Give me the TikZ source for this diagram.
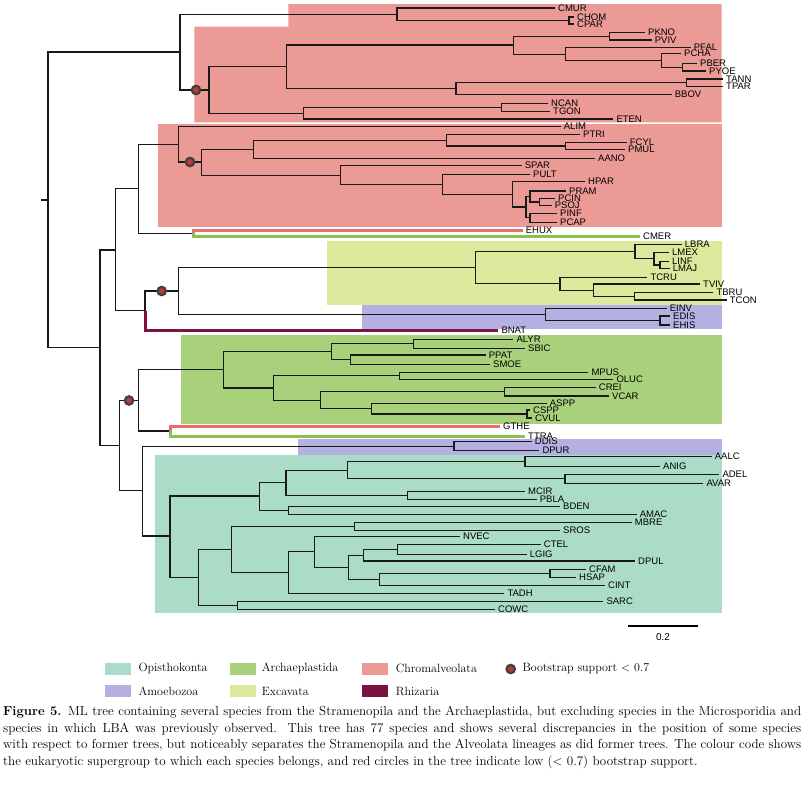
\documentclass[tikz,border=0pt]{standalone}
\usepackage{fontspec}
\newfontfamily\taxfont{Liberation Sans}
\definecolor{opis}{HTML}{AADCC8}
\definecolor{amoeb}{HTML}{B4B0E2}
\definecolor{archae}{HTML}{A9D17C}
\definecolor{excav}{HTML}{DCE89C}
\definecolor{chrom}{HTML}{EC9A96}
\definecolor{rhiz}{HTML}{7B1242}
\definecolor{chromline}{HTML}{E8706C}
\definecolor{archline}{HTML}{8CC152}
\definecolor{bootred}{HTML}{B93A36}
\begin{document}
\begin{tikzpicture}[x=1pt,y=-1pt]
        \tikzstyle{every node}+=[inner sep=0pt]
        \tikzstyle{br}=[line width=1.1pt, black!90]
        \tikzstyle{tip}=[anchor=west, inner xsep=3pt, font=\taxfont\fontsize{9.5}{10}\selectfont]
        \tikzstyle{boot}=[circle, draw=black!75, line width=2.2pt, fill=bootred, minimum size=8.4pt]
        \tikzstyle{swatch}=[rectangle, minimum width=26pt, minimum height=12pt]
        \tikzstyle{legtext}=[anchor=west, font=\fontsize{12}{14}\selectfont]
        \useasboundingbox (0,0) rectangle (805,785);
        \fill [white] (0,0) rectangle (805,785);
        % supergroup boxes
        \fill [chrom] (288.3,4) -- (721.7,4) -- (721.7,122.3) -- (194.3,122.3) -- (194.3,26.7) -- (288.3,26.7) -- cycle;
        \fill [chrom] (158.3,124.3) rectangle (721.7,226.7);
        \fill [excav] (327.3,241) rectangle (721.7,305);
        \fill [amoeb] (362.3,305) rectangle (721.7,329);
        \fill [archae] (181,335) rectangle (721.7,424);
        \fill [amoeb] (298.3,439) rectangle (721.7,455.3);
        \fill [opis] (155,455.3) rectangle (721.7,612.7);
        % internal nodes
        \coordinate (stub) at (41,200);
        \coordinate (root) at (48,200);
        \coordinate (cA) at (180,52);
        \coordinate (cmurN) at (397,14.3);
        \coordinate (chom) at (569,20.5);
        \coordinate (rc1) at (209,90);
        \coordinate (n286a) at (286.3,66.7);
        \coordinate (n513a) at (513.3,45);
        \coordinate (n609) at (609.3,36.2);
        \coordinate (n565a) at (565.3,54.3);
        \coordinate (n662) at (661.7,60.3);
        \coordinate (n682) at (682.3,67.2);
        \coordinate (n456) at (456,88.6);
        \coordinate (n687) at (686.7,82.9);
        \coordinate (n304) at (303.7,113.2);
        \coordinate (n502) at (501.7,107.5);
        \coordinate (nB) at (100,347.5);
        \coordinate (n116) at (115.7,250);
        \coordinate (n138a) at (138.3,188.7);
        \coordinate (n178) at (178.3,144.3);
        \coordinate (rc2) at (201.3,162);
        \coordinate (n253) at (253.3,149.3);
        \coordinate (n447) at (446.7,140.2);
        \coordinate (n566) at (565.7,146);
        \coordinate (n341) at (340.7,175.1);
        \coordinate (n443) at (442.7,184.3);
        \coordinate (n513b) at (512.7,194.4);
        \coordinate (nX) at (526,207);
        \coordinate (nY) at (530,196.5);
        \coordinate (nW) at (539.3,202);
        \coordinate (nZ) at (530,217.8);
        \coordinate (n193) at (193.3,233.2);
        \coordinate (n145) at (145,310.5);
        \coordinate (rc3) at (178.3,291);
        \coordinate (n476) at (475.7,267.8);
        \coordinate (n635) at (635,251.6);
        \coordinate (n654) at (654,258.9);
        \coordinate (n660a) at (660,265);
        \coordinate (n560) at (560,283.9);
        \coordinate (n593) at (593.3,290.1);
        \coordinate (n634) at (634.3,296.2);
        \coordinate (n546) at (545.7,314.4);
        \coordinate (n660b) at (660,320.5);
        \coordinate (n119) at (119.3,445.5);
        \coordinate (rc4) at (138.3,400.5);
        \coordinate (n223) at (223.3,369.8);
        \coordinate (n332) at (331.7,351.7);
        \coordinate (n413) at (413.3,343.8);
        \coordinate (n351) at (350.7,359.7);
        \coordinate (n273) at (273.3,388);
        \coordinate (n399) at (399.3,375.8);
        \coordinate (n321) at (320.7,400.2);
        \coordinate (n504) at (504.3,391.7);
        \coordinate (n372) at (371.7,408.7);
        \coordinate (n527) at (527,414);
        \coordinate (nGT) at (170,431);
        \coordinate (n142) at (142.3,490.5);
        \coordinate (n454) at (454,446.2);
        \coordinate (n170) at (170,536);
        \coordinate (n259) at (259.3,496);
        \coordinate (n286b) at (286,482.7);
        \coordinate (n347) at (347.3,470.2);
        \coordinate (n525) at (525,461.7);
        \coordinate (n565b) at (565,478.8);
        \coordinate (n407) at (407.3,495.5);
        \coordinate (n289a) at (288.7,510.3);
        \coordinate (n198) at (198.3,577.3);
        \coordinate (n232) at (231.7,549.4);
        \coordinate (n354) at (354.3,526.3);
        \coordinate (n289b) at (288.7,572.8);
        \coordinate (n314) at (314.3,551.9);
        \coordinate (n348) at (348.3,567.3);
        \coordinate (n363) at (363.3,555.2);
        \coordinate (n397) at (397.3,549.3);
        \coordinate (n379) at (379.3,579.3);
        \coordinate (n550) at (550,573.3);
        \coordinate (n237) at (237.3,605.3);
        % leaves
        \node [tip] (CMUR) at (555,8) {CMUR};
        \node [tip] (CHOM) at (574,17) {CHOM};
        \node [tip] (CPAR) at (574,24) {CPAR};
        \node [tip] (PKNO) at (645,32.3) {PKNO};
        \node [tip] (PVIV) at (651.7,40) {PVIV};
        \node [tip] (PFAL) at (690.7,47.7) {PFAL};
        \node [tip] (PCHA) at (681,53.3) {PCHA};
        \node [tip] (PBER) at (697,63.3) {PBER};
        \node [tip] (PYOE) at (706,71) {PYOE};
        \node [tip] (TANN) at (723,79) {TANN};
        \node [tip] (TPAR) at (723,86.7) {TPAR};
        \node [tip] (BBOV) at (671.7,94.3) {BBOV};
        \node [tip] (NCAN) at (548,103.3) {NCAN};
        \node [tip] (TGON) at (550,111.7) {TGON};
        \node [tip] (ETEN) at (613.3,119) {ETEN};
        \node [tip] (ALIM) at (560.7,126.5) {ALIM};
        \node [tip] (PTRI) at (580,134.3) {PTRI};
        \node [tip] (FCYL) at (626.7,142.7) {FCYL};
        \node [tip] (PMUL) at (625,149.3) {PMUL};
        \node [tip] (AANO) at (595,158.3) {AANO};
        \node [tip] (SPAR) at (521.7,165.7) {SPAR};
        \node [tip] (PULT) at (530,174.3) {PULT};
        \node [tip] (HPAR) at (585,181.7) {HPAR};
        \node [tip] (PRAM) at (566,191) {PRAM};
        \node [tip] (PCIN) at (555,198.3) {PCIN};
        \node [tip] (PSOJ) at (551.7,205.7) {PSOJ};
        \node [tip] (PINF) at (557,213.3) {PINF};
        \node [tip] (PCAP) at (557,222.3) {PCAP};
        \node [tip] (EHUX) at (522.7,230) {EHUX};
        \node [tip] (CMER) at (640,236.5) {CMER};
        \node [tip] (LBRA) at (681.7,244.3) {LBRA};
        \node [tip] (LMEX) at (669,252.7) {LMEX};
        \node [tip] (LINF) at (669,261.7) {LINF};
        \node [tip] (LMAJ) at (669.7,268.3) {LMAJ};
        \node [tip] (TCRU) at (647.3,277.7) {TCRU};
        \node [tip] (TVIV) at (700,284) {TVIV};
        \node [tip] (TBRU) at (713.3,292.3) {TBRU};
        \node [tip] (TCON) at (726.7,300) {TCON};
        \node [tip] (EINV) at (666.7,308.3) {EINV};
        \node [tip] (EDIS) at (670,316) {EDIS};
        \node [tip] (EHIS) at (670,325) {EHIS};
        \node [tip] (BNAT) at (498.3,330) {BNAT};
        \node [tip] (ALYR) at (513.3,339.3) {ALYR};
        \node [tip] (SBIC) at (525,348.3) {SBIC};
        \node [tip] (PPAT) at (485.7,355) {PPAT};
        \node [tip] (SMOE) at (490,364.3) {SMOE};
        \node [tip] (MPUS) at (588.3,372.3) {MPUS};
        \node [tip] (OLUC) at (613.3,379.3) {OLUC};
        \node [tip] (CREI) at (595.7,387.3) {CREI};
        \node [tip] (VCAR) at (609,396) {VCAR};
        \node [tip] (ASPP) at (546.7,403.3) {ASPP};
        \node [tip] (CSPP) at (530,410) {CSPP};
        \node [tip] (CVUL) at (532,418) {CVUL};
        \node [tip] (GTHE) at (500,426) {GTHE};
        \node [tip] (TTRA) at (525,436) {TTRA};
        \node [tip] (DDIS) at (531.7,441.7) {DDIS};
        \node [tip] (DPUR) at (539.3,450.7) {DPUR};
        \node [tip] (AALC) at (711.7,456.7) {AALC};
        \node [tip] (ANIG) at (660,466.7) {ANIG};
        \node [tip] (ADEL) at (719.3,474.3) {ADEL};
        \node [tip] (AVAR) at (703.3,483.3) {AVAR};
        \node [tip] (MCIR) at (525,491.7) {MCIR};
        \node [tip] (PBLA) at (536.7,499.3) {PBLA};
        \node [tip] (BDEN) at (560,506.3) {BDEN};
        \node [tip] (AMAC) at (636.7,514.3) {AMAC};
        \node [tip] (MBRE) at (631.7,522.3) {MBRE};
        \node [tip] (SROS) at (560,530.3) {SROS};
        \node [tip] (NVEC) at (460,536.3) {NVEC};
        \node [tip] (CTEL) at (540.7,544.3) {CTEL};
        \node [tip] (LGIG) at (526.7,554.3) {LGIG};
        \node [tip] (DPUL) at (635,561) {DPUL};
        \node [tip] (CFAM) at (586,569.3) {CFAM};
        \node [tip] (HSAP) at (576,577.3) {HSAP};
        \node [tip] (CINT) at (605,585.3) {CINT};
        \node [tip] (TADH) at (504.3,593.3) {TADH};
        \node [tip] (SARC) at (603.3,601.3) {SARC};
        \node [tip] (COWC) at (495,609.3) {COWC};
        % branches
        \draw [br] (stub) -- (root);
        \draw [br] (root) |- (cA) (root) |- (nB);
        \draw [br] (cA) |- (cmurN) (cA) |- (rc1);
        \draw [br] (cmurN) |- (CMUR.west) (cmurN) |- (chom);
        \draw [br] (chom) |- (CHOM.west) (chom) |- (CPAR.west);
        \draw [br] (rc1) |- (n286a) (rc1) |- (n304);
        \draw [br] (n286a) |- (n513a) (n286a) |- (n456);
        \draw [br] (n513a) |- (n609) (n513a) |- (n565a);
        \draw [br] (n609) |- (PKNO.west) (n609) |- (PVIV.west);
        \draw [br] (n565a) |- (PFAL.west) (n565a) |- (n662);
        \draw [br] (n662) |- (PCHA.west) (n662) |- (n682);
        \draw [br] (n682) |- (PBER.west) (n682) |- (PYOE.west);
        \draw [br] (n456) |- (n687) (n456) |- (BBOV.west);
        \draw [br] (n687) |- (TANN.west) (n687) |- (TPAR.west);
        \draw [br] (n304) |- (n502) (n304) |- (ETEN.west);
        \draw [br] (n502) |- (NCAN.west) (n502) |- (TGON.west);
        \draw [br] (nB) |- (n116) (nB) |- (n119);
        \draw [br] (n116) |- (n138a) (n116) |- (n145);
        \draw [br] (n138a) |- (n178) (n138a) |- (n193);
        \draw [br] (n178) |- (ALIM.west) (n178) |- (rc2);
        \draw [br] (rc2) |- (n253) (rc2) |- (n341);
        \draw [br] (n253) |- (n447) (n253) |- (AANO.west);
        \draw [br] (n447) |- (PTRI.west) (n447) |- (n566);
        \draw [br] (n566) |- (FCYL.west) (n566) |- (PMUL.west);
        \draw [br] (n341) |- (SPAR.west) (n341) |- (n443);
        \draw [br] (n443) |- (PULT.west) (n443) |- (n513b);
        \draw [br] (n513b) |- (HPAR.west) (n513b) |- (nX);
        \draw [br] (nX) |- (nY) (nX) |- (nZ);
        \draw [br] (nY) |- (PRAM.west) (nY) |- (nW);
        \draw [br] (nW) |- (PCIN.west) (nW) |- (PSOJ.west);
        \draw [br] (nZ) |- (PINF.west) (nZ) |- (PCAP.west);
        \draw [chromline, line width=3pt] (n193) |- (EHUX.west);
        \draw [archline, line width=3pt] (n193) |- (CMER.west);
        \draw [br] (n145) |- (rc3);
        \draw [rhiz, line width=3pt] (n145) |- (BNAT.west);
        \draw [br] (rc3) |- (n476) (rc3) |- (n546);
        \draw [br] (n476) |- (n635) (n476) |- (n560);
        \draw [br] (n635) |- (LBRA.west) (n635) |- (n654);
        \draw [br] (n654) |- (LMEX.west) (n654) |- (n660a);
        \draw [br] (n660a) |- (LINF.west) (n660a) |- (LMAJ.west);
        \draw [br] (n560) |- (TCRU.west) (n560) |- (n593);
        \draw [br] (n593) |- (TVIV.west) (n593) |- (n634);
        \draw [br] (n634) |- (TBRU.west) (n634) |- (TCON.west);
        \draw [br] (n546) |- (EINV.west) (n546) |- (n660b);
        \draw [br] (n660b) |- (EDIS.west) (n660b) |- (EHIS.west);
        \draw [br] (n119) |- (rc4) (n119) |- (n142);
        \draw [br] (rc4) |- (n223) (rc4) |- (nGT);
        \draw [br] (n223) |- (n332) (n223) |- (n273);
        \draw [br] (n332) |- (n413) (n332) |- (n351);
        \draw [br] (n413) |- (ALYR.west) (n413) |- (SBIC.west);
        \draw [br] (n351) |- (PPAT.west) (n351) |- (SMOE.west);
        \draw [br] (n273) |- (n399) (n273) |- (n321);
        \draw [br] (n399) |- (MPUS.west) (n399) |- (OLUC.west);
        \draw [br] (n321) |- (n504) (n321) |- (n372);
        \draw [br] (n504) |- (CREI.west) (n504) |- (VCAR.west);
        \draw [br] (n372) |- (ASPP.west) (n372) |- (n527);
        \draw [br] (n527) |- (CSPP.west) (n527) |- (CVUL.west);
        \draw [chromline, line width=3pt] (nGT) |- (GTHE.west);
        \draw [archline, line width=3pt] (nGT) |- (TTRA.west);
        \draw [br] (n142) |- (n454) (n142) |- (n170);
        \draw [br] (n454) |- (DDIS.west) (n454) |- (DPUR.west);
        \draw [br] (n170) |- (n259) (n170) |- (n198);
        \draw [br] (n259) |- (n286b) (n259) |- (n289a);
        \draw [br] (n286b) |- (n347) (n286b) |- (n407);
        \draw [br] (n347) |- (n525) (n347) |- (n565b);
        \draw [br] (n525) |- (AALC.west) (n525) |- (ANIG.west);
        \draw [br] (n565b) |- (ADEL.west) (n565b) |- (AVAR.west);
        \draw [br] (n407) |- (MCIR.west) (n407) |- (PBLA.west);
        \draw [br] (n289a) |- (BDEN.west) (n289a) |- (AMAC.west);
        \draw [br] (n198) |- (n232) (n198) |- (n237);
        \draw [br] (n232) |- (n354) (n232) |- (n289b);
        \draw [br] (n354) |- (MBRE.west) (n354) |- (SROS.west);
        \draw [br] (n289b) |- (n314) (n289b) |- (TADH.west);
        \draw [br] (n314) |- (NVEC.west) (n314) |- (n348);
        \draw [br] (n348) |- (n363) (n348) |- (n379);
        \draw [br] (n363) |- (n397) (n363) |- (DPUL.west);
        \draw [br] (n397) |- (CTEL.west) (n397) |- (LGIG.west);
        \draw [br] (n379) |- (n550) (n379) |- (CINT.west);
        \draw [br] (n550) |- (CFAM.west) (n550) |- (HSAP.west);
        \draw [br] (n237) |- (SARC.west) (n237) |- (COWC.west);
        % low bootstrap
        \node [boot] (b1) at (196,90) {};
        \node [boot] (b2) at (190,162) {};
        \node [boot] (b3) at (161.7,291) {};
        \node [boot] (b4) at (129,400.5) {};
        % scale bar
        \coordinate (sbl) at (628,626);
        \coordinate (sbr) at (698,626);
        \draw [line width=1.6pt] (sbl) -- (sbr);
        \node [font=\taxfont\fontsize{10}{11}\selectfont] (sblab) at (663,637) {0.2};
        % legend
        \node [swatch, fill=opis] (kopis) at (118,668.5) {};
        \node [legtext] (lopis) at (138.3,668.5) {Opisthokonta};
        \node [swatch, fill=amoeb] (kamoeb) at (118,691) {};
        \node [legtext] (lamoeb) at (138.3,691) {Amoebozoa};
        \node [swatch, fill=archae] (karch) at (242.5,668.5) {};
        \node [legtext] (larch) at (261.7,668.5) {Archaeplastida};
        \node [swatch, fill=excav] (kexc) at (242.5,691) {};
        \node [legtext] (lexc) at (261.7,691) {Excavata};
        \node [swatch, fill=chrom] (kchrom) at (374.7,668.5) {};
        \node [legtext] (lchrom) at (395.7,668.5) {Chromalveolata};
        \node [swatch, fill=rhiz] (krhiz) at (374.7,691) {};
        \node [legtext] (lrhiz) at (395.7,691) {Rhizaria};
        \node [boot] (kboot) at (510.7,669) {};
        \node [legtext] (lboot) at (522.3,668.5) {Bootstrap support \textless{} 0.7};
        % caption
        \node [anchor=north west, text width=798pt, align=justify, font=\fontsize{13.1}{16.6}\selectfont] (caption) at (3,706) {\textbf{Figure 5.} ML tree containing several species from the Stramenopila and the Archaeplastida, but excluding species in the Microsporidia and\linebreak species in which LBA was previously observed. This tree has 77 species and shows several discrepancies in the position of some species\linebreak with respect to former trees, but noticeably separates the Stramenopila and the Alveolata lineages as did former trees. The colour code shows\linebreak the eukaryotic supergroup to which each species belongs, and red circles in the tree indicate low (\textless{} 0.7) bootstrap support.};
        \end{tikzpicture}
\end{document}
